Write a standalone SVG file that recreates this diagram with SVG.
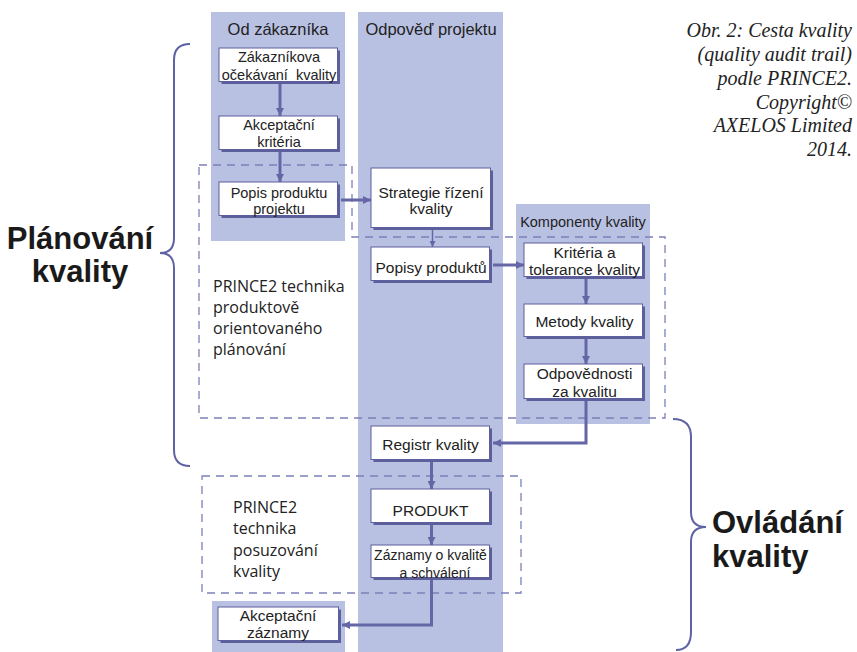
<svg xmlns="http://www.w3.org/2000/svg" width="857" height="652" viewBox="0 0 857 652">
<defs>
<style>
.col{fill:#b9c1e3}
.dash{fill:none;stroke:#7c80b8;stroke-width:1.3;stroke-dasharray:8 6}
.shd{fill:#5c5f9c}
.box{fill:#fff;stroke:#5c5f9c;stroke-width:1}
.t{font-family:"Liberation Sans",Arial,sans-serif;fill:#222;text-anchor:middle}
.s14{font-size:14.5px}
.s13{font-size:14px}
.s15{font-size:15.5px}
.ttl{font-family:"Liberation Sans",Arial,sans-serif;fill:#222;font-size:16.5px;text-anchor:middle}
.big{font-family:"Liberation Sans",Arial,sans-serif;font-weight:bold;font-size:31px;fill:#1a1a1a}
.pr{font-family:"Open Sans","Noto Sans",sans-serif;font-size:16px;fill:#222}
.cap{font-family:"Liberation Serif","Times New Roman",serif;font-style:italic;font-size:20px;fill:#222;text-anchor:end}
.con{fill:none;stroke:#6466a6;stroke-width:3}
.thin{fill:none;stroke:#6466a6;stroke-width:1.5}
.brace{fill:none;stroke:#5f62a3;stroke-width:2}
</style>
<marker id="ah" viewBox="0 0 8 8" refX="8" refY="4" markerWidth="8" markerHeight="8" markerUnits="userSpaceOnUse" orient="auto">
<path d="M0,0 L8,4 L0,8 z" fill="#6466a6"/>
</marker>
<marker id="ahs" viewBox="0 0 8 8" refX="8" refY="4" markerWidth="6" markerHeight="6" markerUnits="userSpaceOnUse" orient="auto">
<path d="M0,0 L8,4 L0,8 z" fill="#6466a6"/>
</marker>
</defs>
<rect width="857" height="652" fill="#fff"/>

<g id="columns">
<rect class="col" x="211" y="12" width="134" height="229"/>
<rect class="col" x="358" y="12" width="145" height="640"/>
<rect class="col" x="516" y="204" width="134" height="220"/>
<rect class="col" x="212" y="601" width="133" height="51"/>
<text class="ttl" x="278" y="35">Od zákazníka</text>
<text class="ttl" x="431" y="35">Odpověď projektu</text>
<text class="t s14" x="583" y="227">Komponenty kvality</text>
</g>

<g id="regions">
<path class="dash" d="M199,165 L352,165 L352,237 L665,237 L665,418 L199,418 Z"/>
<rect class="dash" x="202" y="476" width="319" height="117"/>
<text class="pr"><tspan x="213" y="292">PRINCE2 technika</tspan><tspan x="213" y="313">produktově</tspan><tspan x="213" y="334">orientovaného</tspan><tspan x="213" y="355">plánování</tspan></text>
<text class="pr"><tspan x="233" y="513">PRINCE2</tspan><tspan x="233" y="534">technika</tspan><tspan x="233" y="556">posuzování</tspan><tspan x="233" y="577">kvality</tspan></text>
</g>

<g id="connectors">
<path class="con" d="M280,84 L280,116" marker-end="url(#ah)"/>
<path class="con" d="M280,152 L280,182" marker-end="url(#ah)"/>
<path class="con" d="M341,200 L371,200" marker-end="url(#ah)"/>
<path class="thin" d="M432.5,230 L432.5,247" marker-end="url(#ahs)"/>
<path class="con" d="M493,265 L524,265" marker-end="url(#ah)"/>
<path class="con" d="M586,279 L586,304" marker-end="url(#ah)"/>
<path class="con" d="M586,339 L586,364" marker-end="url(#ah)"/>
<path class="con" d="M586,401 L586,443 L493,443" marker-end="url(#ah)"/>
<path class="con" d="M431.5,462 L431.5,489" marker-end="url(#ah)"/>
<path class="con" d="M431.5,525 L431.5,545" marker-end="url(#ah)"/>
<path class="con" d="M431.5,580 L431.5,625 L342,625" marker-end="url(#ah)"/>
</g>

<g id="n1"><rect class="shd" x="221.5" y="50.5" width="118.5" height="33.5"/><rect class="box" x="219" y="48" width="118.5" height="33.5"/><text class="t s14"><tspan x="279" y="62">Zákazníkova</tspan><tspan x="279" y="79.5">očekávaní&#160; kvality</tspan></text></g>
<g id="n2"><rect class="shd" x="221.5" y="118.5" width="118.5" height="33.5"/><rect class="box" x="219" y="116" width="118.5" height="33.5"/><text class="t s14"><tspan x="279" y="130">Akceptační</tspan><tspan x="279" y="147">kritéria</tspan></text></g>
<g id="n3"><rect class="shd" x="221.5" y="184.5" width="118.5" height="33.5"/><rect class="box" x="219" y="182" width="118.5" height="33.5"/><text class="t s14"><tspan x="279" y="198">Popis produktu</tspan><tspan x="279" y="214">projektu</tspan></text></g>
<g id="n4"><rect class="shd" x="373.5" y="170.5" width="119.5" height="59.5"/><rect class="box" x="371" y="168" width="119.5" height="59.5"/><text class="t s15"><tspan x="431" y="197.5">Strategie řízení</tspan><tspan x="431" y="214">kvality</tspan></text></g>
<g id="n5"><rect class="shd" x="373.5" y="249.5" width="118.5" height="33.5"/><rect class="box" x="371" y="247" width="118.5" height="33.5"/><text class="t s15" x="431" y="273">Popisy produktů</text></g>
<g id="n6"><rect class="shd" x="526.5" y="245.5" width="118.5" height="33.5"/><rect class="box" x="524" y="243" width="118.5" height="33.5"/><text class="t s15"><tspan x="584.5" y="258">Kritéria a</tspan><tspan x="584.5" y="275">tolerance kvality</tspan></text></g>
<g id="n7"><rect class="shd" x="526.5" y="306.5" width="118.5" height="32.5"/><rect class="box" x="524" y="304" width="118.5" height="32.5"/><text class="t s15" x="584.5" y="327">Metody kvality</text></g>
<g id="n8"><rect class="shd" x="526.5" y="366.5" width="118.5" height="34.5"/><rect class="box" x="524" y="364" width="118.5" height="34.5"/><text class="t s15"><tspan x="584.5" y="379">Odpovědnosti</tspan><tspan x="584.5" y="397">za kvalitu</tspan></text></g>
<g id="n9"><rect class="shd" x="373.5" y="428.5" width="118.5" height="33.5"/><rect class="box" x="371" y="426" width="118.5" height="33.5"/><text class="t s15" x="430.5" y="450">Registr kvality</text></g>
<g id="n10"><rect class="shd" x="373.5" y="491.5" width="118.5" height="33.5"/><rect class="box" x="371" y="489" width="118.5" height="33.5"/><text class="t s15" x="430.5" y="515.5">PRODUKT</text></g>
<g id="n11"><rect class="shd" x="373.5" y="547.5" width="118.5" height="32.5"/><rect class="box" x="371" y="545" width="118.5" height="32.5"/><text class="t s13"><tspan x="430.5" y="560">Záznamy o kvalitě</tspan><tspan x="435" y="577.5">a schválení</tspan></text></g>
<g id="n12"><rect class="shd" x="220.5" y="609.5" width="120.5" height="33.5"/><rect class="box" x="218" y="607" width="120.5" height="33.5"/><text class="t s15"><tspan x="278" y="621">Akceptační</tspan><tspan x="278" y="638">záznamy</tspan></text></g>

<g id="brace-planning">
<path class="brace" d="M190,44 Q174,44 174,60 L174,238 Q174,253 160,253 Q174,253 174,268 L174,450 Q174,466 190,466"/>
<text class="big" text-anchor="middle"><tspan x="80" y="249">Plánování</tspan><tspan x="80" y="282">kvality</tspan></text>
</g>
<g id="brace-control">
<path class="brace" d="M673,419 Q691,419 691,437 L691,512 Q691,527 706,527 Q691,527 691,542 L691,632 Q691,650 676,650"/>
<text class="big"><tspan x="712" y="533">Ovládání</tspan><tspan x="712" y="567">kvality</tspan></text>
</g>

<g id="caption">
<text class="cap"><tspan x="852" y="37">Obr. 2: Cesta kvality</tspan><tspan x="852" y="61">(quality audit trail)</tspan><tspan x="852" y="85">podle PRINCE2.</tspan><tspan x="852" y="108.5">Copyright©</tspan><tspan x="852" y="132">AXELOS Limited</tspan><tspan x="852" y="155.5">2014.</tspan></text>
</g>
</svg>
